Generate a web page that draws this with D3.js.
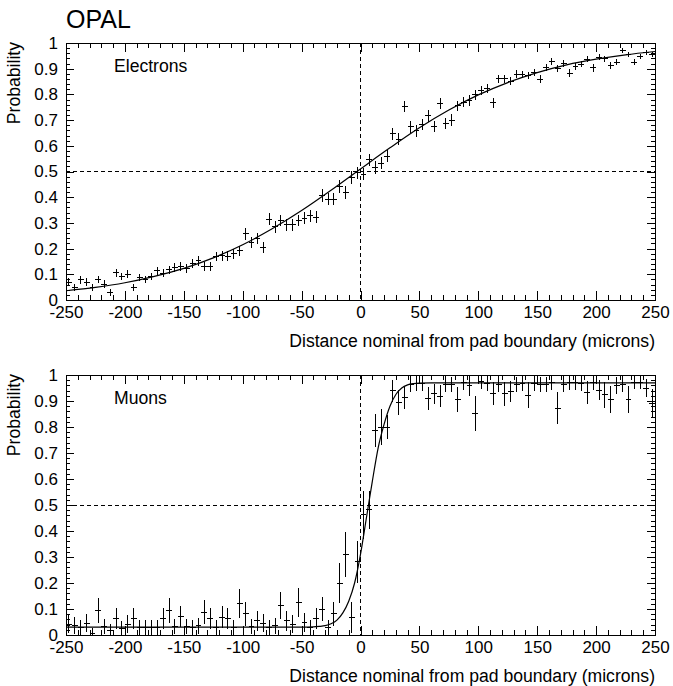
<!DOCTYPE html>
<html>
<head>
<meta charset="utf-8">
<script src="https://cdn.jsdelivr.net/npm/d3@7"></script>
<style>
  html, body { margin: 0; padding: 0; background: #fff; }
  svg { display: block; font-family: "Liberation Sans", Arial, Helvetica, sans-serif; }
</style>
</head>
<body>
<svg id="chart" width="673" height="686"></svg>
<script>
// ---------------- DATA ----------------
const binWidth = 5;
const binStart = -247.5;

const electronValues = [
  0.070, 0.049, 0.078, 0.070, 0.049, 0.080, 0.062, 0.030, 0.106, 0.092,
  0.101, 0.049, 0.087, 0.080, 0.091, 0.114, 0.104, 0.118, 0.127, 0.130,
  0.123, 0.143, 0.152, 0.130, 0.131, 0.169, 0.172, 0.171, 0.179, 0.192,
  0.257, 0.223, 0.239, 0.205, 0.314, 0.285, 0.309, 0.292, 0.292, 0.309,
  0.319, 0.327, 0.322, 0.407, 0.392, 0.392, 0.441, 0.418, 0.477, 0.495,
  0.490, 0.545, 0.516, 0.532, 0.560, 0.646, 0.625, 0.752, 0.674, 0.659,
  0.682, 0.716, 0.674, 0.765, 0.687, 0.700, 0.755, 0.770, 0.776, 0.799,
  0.815, 0.822, 0.768, 0.861, 0.861, 0.851, 0.879, 0.877, 0.874, 0.885,
  0.859, 0.905, 0.929, 0.900, 0.921, 0.882, 0.908, 0.918, 0.937, 0.903,
  0.944, 0.939, 0.913, 0.926, 0.970, 0.955, 0.926, 0.947, 0.962, 0.955
];
const electronErrors = [
  0.014, 0.014, 0.014, 0.014, 0.014, 0.014, 0.014, 0.013, 0.015, 0.015,
  0.015, 0.014, 0.015, 0.015, 0.015, 0.016, 0.016, 0.016, 0.017, 0.017,
  0.017, 0.018, 0.018, 0.017, 0.017, 0.019, 0.019, 0.019, 0.019, 0.020,
  0.022, 0.021, 0.022, 0.021, 0.023, 0.023, 0.023, 0.023, 0.023, 0.023,
  0.023, 0.024, 0.024, 0.024, 0.024, 0.024, 0.024, 0.024, 0.024, 0.024,
  0.024, 0.024, 0.024, 0.024, 0.024, 0.023, 0.023, 0.022, 0.023, 0.023,
  0.022, 0.022, 0.022, 0.021, 0.022, 0.022, 0.021, 0.020, 0.020, 0.019,
  0.018, 0.018, 0.019, 0.016, 0.016, 0.016, 0.015, 0.015, 0.015, 0.015,
  0.016, 0.014, 0.013, 0.014, 0.013, 0.015, 0.014, 0.013, 0.012, 0.014,
  0.012, 0.012, 0.013, 0.013, 0.010, 0.011, 0.013, 0.011, 0.010, 0.011
];

const muonValues = [
  0.042, 0.038, 0.029, 0.045, 0.006, 0.096, 0.032, 0.019, 0.063, 0.026,
  0.042, 0.063, 0.029, 0.029, 0.029, 0.029, 0.063, 0.094, 0.032, 0.071,
  0.032, 0.029, 0.035, 0.088, 0.065, 0.029, 0.068, 0.063, 0.029, 0.122,
  0.081, 0.032, 0.055, 0.045, 0.029, 0.035, 0.112, 0.055, 0.042, 0.126,
  0.049, 0.029, 0.063, 0.100, 0.029, 0.081, 0.200, 0.310, 0.068, 0.281,
  0.463, 0.481, 0.786, 0.800, 0.800, 0.940, 0.896, 0.914, 0.965, 0.968,
  0.968, 0.910, 0.927, 0.919, 0.965, 0.963, 0.906, 0.970, 0.958, 0.852,
  0.974, 0.968, 0.929, 0.965, 0.927, 0.937, 0.963, 0.968, 0.923, 0.968,
  0.963, 0.963, 0.970, 0.873, 0.965, 0.970, 0.970, 0.968, 0.932, 0.970,
  0.942, 0.924, 0.906, 0.960, 0.965, 0.904, 0.973, 0.973, 0.950, 0.891
];
const muonErrors = [
  0.035, 0.033, 0.030, 0.035, 0.020, 0.048, 0.030, 0.025, 0.040, 0.028,
  0.035, 0.040, 0.030, 0.030, 0.030, 0.030, 0.040, 0.048, 0.030, 0.042,
  0.030, 0.030, 0.032, 0.045, 0.040, 0.030, 0.042, 0.040, 0.030, 0.055,
  0.045, 0.030, 0.038, 0.035, 0.030, 0.032, 0.052, 0.038, 0.035, 0.055,
  0.036, 0.030, 0.040, 0.048, 0.030, 0.045, 0.078, 0.085, 0.060, 0.080,
  0.092, 0.074, 0.064, 0.070, 0.045, 0.042, 0.048, 0.045, 0.030, 0.030,
  0.030, 0.045, 0.040, 0.042, 0.030, 0.030, 0.048, 0.028, 0.038, 0.067,
  0.028, 0.030, 0.045, 0.030, 0.045, 0.040, 0.030, 0.030, 0.050, 0.030,
  0.030, 0.030, 0.028, 0.060, 0.030, 0.028, 0.028, 0.030, 0.045, 0.028,
  0.040, 0.050, 0.052, 0.032, 0.030, 0.052, 0.028, 0.028, 0.035, 0.055
];

// fit curves
const electronFitX = [-250,-225,-200,-175,-150,-125,-100,-75,-50,-25,0,25,50,75,100,125,150,175,200,225,250];
const electronFitY = [0.036,0.049,0.067,0.092,0.123,0.164,0.215,0.277,0.348,0.427,0.510,0.592,0.670,0.739,0.798,0.846,0.885,0.915,0.937,0.954,0.967];

const muonFitX = [-250,-50,-40,-35,-30,-25,-20,-15,-10,-5,0,5,10,15,20,25,30,35,40,45,50,60,250];
const muonFitY = [0.030,0.030,0.031,0.033,0.036,0.043,0.057,0.085,0.130,0.200,0.310,0.450,0.590,0.720,0.810,0.880,0.925,0.950,0.962,0.967,0.969,0.970,0.970];

const xTickValues = [-250,-200,-150,-100,-50,0,50,100,150,200,250];
const xTickLabels = ["-250","-200","-150","-100","-50","0","50","100","150","200","250"];
const yTickValues = [0,0.1,0.2,0.3,0.4,0.5,0.6,0.7,0.8,0.9,1];
const yTickLabels = ["0","0.1","0.2","0.3","0.4","0.5","0.6","0.7","0.8","0.9","1"];

const titleText = "OPAL";
const xTitle = "Distance nominal from pad boundary (microns)";
const yTitle = "Probability";
const panelLabels = ["Electrons", "Muons"];

// ---------------- DRAW ----------------
const svg = d3.select("#chart");
const left = 66, right = 655;
const fontSize = 17;
const titleSize = 17.6;

svg.append("text")
  .attr("x", 66).attr("y", 28)
  .attr("font-size", 25)
  .attr("fill", "#000")
  .text(titleText);

const xMinor = d3.range(-250, 251, 10).filter(v => v % 50 !== 0);
const yMinor = d3.range(0, 51, 1).map(v => v / 50).filter((v, i) => i % 5 !== 0);

function drawPanel(idx, top, bottom, values, errors, fitX, fitY) {
  const x = d3.scaleLinear().domain([-250, 250]).range([left, right]);
  const y = d3.scaleLinear().domain([0, 1]).range([bottom, top]);
  const g = svg.append("g");

  const clipId = "clip" + idx;
  svg.append("clipPath").attr("id", clipId)
    .append("rect").attr("x", left).attr("y", top)
    .attr("width", right - left).attr("height", bottom - top);

  // dashed reference lines
  g.append("line")
    .attr("x1", x(0)).attr("x2", x(0)).attr("y1", top).attr("y2", bottom)
    .attr("stroke", "#000").attr("stroke-width", 1).attr("stroke-dasharray", "4,3")
    .attr("shape-rendering", "crispEdges");
  g.append("line")
    .attr("x1", left).attr("x2", right).attr("y1", y(0.5)).attr("y2", y(0.5))
    .attr("stroke", "#000").attr("stroke-width", 1).attr("stroke-dasharray", "4,3")
    .attr("shape-rendering", "crispEdges");

  // data points
  const pts = values.map((v, i) => ({c: binStart + i * binWidth, v: v, e: errors[i]}));
  const pg = g.append("g").attr("clip-path", `url(#${clipId})`)
    .attr("stroke", "#000").attr("stroke-width", 1).attr("shape-rendering", "crispEdges");
  pg.selectAll("line.v").data(pts).join("line").attr("class", "v")
    .attr("x1", d => x(d.c)).attr("x2", d => x(d.c))
    .attr("y1", d => y(d.v - d.e)).attr("y2", d => y(d.v + d.e));
  pg.selectAll("line.h").data(pts).join("line").attr("class", "h")
    .attr("x1", d => x(d.c - binWidth / 2)).attr("x2", d => x(d.c + binWidth / 2))
    .attr("y1", d => y(d.v)).attr("y2", d => y(d.v));

  // fit curve
  const line = d3.line().x(d => x(d[0])).y(d => y(d[1])).curve(d3.curveMonotoneX);
  g.append("path")
    .datum(fitX.map((xx, i) => [xx, fitY[i]]))
    .attr("d", line)
    .attr("fill", "none").attr("stroke", "#000").attr("stroke-width", 1.2)
    .attr("clip-path", `url(#${clipId})`);

  // axes
  const styleAxis = sel => {
    sel.select(".domain").remove();
    sel.selectAll("line").attr("stroke", "#000").attr("shape-rendering", "crispEdges");
    sel.selectAll("text").attr("font-size", fontSize).attr("fill", "#000")
      .attr("font-family", '"Liberation Sans", Arial, sans-serif');
  };

  g.append("g").attr("transform", `translate(0,${bottom})`)
    .call(d3.axisBottom(x).tickValues(xTickValues).tickSize(-9).tickPadding(6)
      .tickFormat((d, i) => xTickLabels[i])).call(styleAxis);
  g.append("g").attr("transform", `translate(0,${bottom})`)
    .call(d3.axisBottom(x).tickValues(xMinor).tickSize(-5).tickFormat("")).call(styleAxis);
  g.append("g").attr("transform", `translate(0,${top})`)
    .call(d3.axisTop(x).tickValues(xTickValues).tickSize(-9).tickFormat("")).call(styleAxis);
  g.append("g").attr("transform", `translate(0,${top})`)
    .call(d3.axisTop(x).tickValues(xMinor).tickSize(-5).tickFormat("")).call(styleAxis);

  g.append("g").attr("transform", `translate(${left},0)`)
    .call(d3.axisLeft(y).tickValues(yTickValues).tickSize(-8).tickPadding(8)
      .tickFormat((d, i) => yTickLabels[i])).call(styleAxis);
  g.append("g").attr("transform", `translate(${left},0)`)
    .call(d3.axisLeft(y).tickValues(yMinor).tickSize(-4).tickFormat("")).call(styleAxis);
  g.append("g").attr("transform", `translate(${right},0)`)
    .call(d3.axisRight(y).tickValues(yTickValues).tickSize(-8).tickFormat("")).call(styleAxis);
  g.append("g").attr("transform", `translate(${right},0)`)
    .call(d3.axisRight(y).tickValues(yMinor).tickSize(-4).tickFormat("")).call(styleAxis);

  // frame
  g.append("rect")
    .attr("x", left).attr("y", top).attr("width", right - left).attr("height", bottom - top)
    .attr("fill", "none").attr("stroke", "#000").attr("stroke-width", 1)
    .attr("shape-rendering", "crispEdges");

  // titles
  g.append("text")
    .attr("x", right).attr("y", bottom + 47)
    .attr("text-anchor", "end").attr("font-size", titleSize).attr("fill", "#000")
    .text(xTitle);
  g.append("text")
    .attr("transform", `translate(20,${top - 1}) rotate(-90)`)
    .attr("text-anchor", "end").attr("font-size", titleSize).attr("fill", "#000")
    .text(yTitle);
  g.append("text")
    .attr("x", 114).attr("y", top + 29)
    .attr("font-size", titleSize).attr("fill", "#000")
    .text(panelLabels[idx]);
}

drawPanel(0, 43, 300, electronValues, electronErrors, electronFitX, electronFitY);
drawPanel(1, 375, 635, muonValues, muonErrors, muonFitX, muonFitY);
</script>
</body>
</html>
